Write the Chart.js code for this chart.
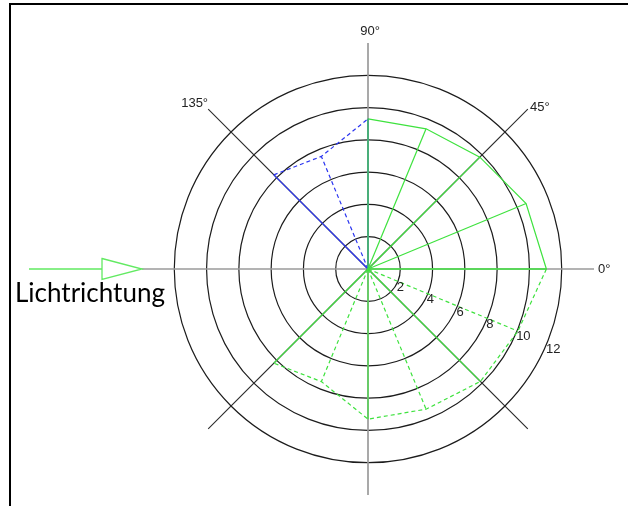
<!DOCTYPE html>
<html>
<head>
<meta charset="utf-8">
<script src="https://cdn.jsdelivr.net/npm/chart.js@4"></script>
<style>
  html, body { margin: 0; padding: 0; background: #fff; }
  #wrap { position: relative; width: 628px; height: 506px; overflow: hidden; }
  #frame {
    position: absolute; left: 9px; top: 3px; right: -4px; bottom: -4px;
    border-top: 2px solid #000; border-left: 2px solid #000;
  }
  canvas { position: absolute; left: 0; top: 0; }
</style>
</head>
<body>
<div id="wrap">
  <canvas id="polar" width="628" height="506"></canvas>
  <div id="frame"></div>
</div>
<script>
// directions of the radar spokes, clockwise from 0° (the way the radial scale runs)
const angles = [0, -22.5, -45, -67.5, -90, -112.5, -135, -157.5, 180, 157.5, 135, 112.5, 90, 67.5, 45, 22.5];
const degreeLabels = [0, 45, 90, 135];
const radiusTicks = [2, 4, 6, 8, 10, 12];

// upper half, solid green
const upperAngles = [0, 22.5, 45, 67.5, 90];
const upperValues = [11.05, 10.6, 9.8, 9.4, 9.3];

// lower half, dashed green
const lowerAngles = [0, -22.5, -45, -67.5, -90, -112.5, -135];
const lowerValues = [11.05, 10.05, 9.85, 9.4, 9.3, 7.55, 8.25];

// back side, blue
const backAngles = [90, 112.5, 135];
const backValues = [9.3, 7.55, 8.25];

const GREEN = '#3ee23e';
const BLUE = '#2b35f0';

function series(as, vs) {
  return angles.map(a => {
    const i = as.indexOf(a);
    return i >= 0 ? vs[i] : null;
  });
}

// spokes from the centre to each measured point (last dataset first so the solid green ends on top)
const rayPlugin = {
  id: 'rays',
  afterDatasetsDraw(chart) {
    const ctx = chart.ctx;
    const r = chart.scales.r;
    for (let di = chart.data.datasets.length - 1; di >= 0; di--) {
      const ds = chart.data.datasets[di];
      const meta = chart.getDatasetMeta(di);
      meta.data.forEach((pt, i) => {
        if (ds.data[i] === null) return;
        const dashed = ds.rayDashed && angles[i] % 45 !== 0;
        ctx.save();
        ctx.strokeStyle = ds.borderColor;
        ctx.lineWidth = ds.borderWidth;
        ctx.setLineDash(dashed ? [4, 3] : []);
        ctx.beginPath();
        ctx.moveTo(r.xCenter, r.yCenter);
        ctx.lineTo(pt.x, pt.y);
        ctx.stroke();
        ctx.restore();
      });
    }
  }
};

// degree labels, radius labels and the light direction arrow
const labelPlugin = {
  id: 'labels',
  afterDraw(chart) {
    const ctx = chart.ctx;
    const r = chart.scales.r;
    ctx.save();
    ctx.fillStyle = '#222';
    ctx.font = '13px "Liberation Sans", Arial, sans-serif';

    degreeLabels.forEach(a => {
      const idx = angles.indexOf(a);
      const p = r.getPointPosition(idx, r.drawingArea + 3);
      const txt = a + '°';
      if (a === 0) { ctx.textAlign = 'left'; ctx.textBaseline = 'middle'; ctx.fillText(txt, p.x + 1, p.y); }
      else if (a === 90) { ctx.textAlign = 'center'; ctx.textBaseline = 'bottom'; ctx.fillText(txt, p.x + 2, p.y - 2); }
      else if (a === 45) { ctx.textAlign = 'left'; ctx.textBaseline = 'middle'; ctx.fillText(txt, p.x, p.y); }
      else { ctx.textAlign = 'right'; ctx.textBaseline = 'middle'; ctx.fillText(txt, p.x + 2, p.y - 4); }
    });

    // radius values along the -22.5° spoke
    const tickIdx = angles.indexOf(-22.5);
    ctx.textAlign = 'left';
    ctx.textBaseline = 'middle';
    radiusTicks.forEach(v => {
      const p = r.getPointPosition(tickIdx, r.getDistanceFromCenterForValue(v));
      ctx.fillText(String(v), p.x - 1, p.y + 6);
    });

    // incoming light: line with an open triangle ending at the 180° spoke
    const tip = r.getPointPosition(angles.indexOf(180), r.drawingArea);
    ctx.strokeStyle = '#62ea62';
    ctx.lineWidth = 1.3;
    ctx.beginPath();
    ctx.moveTo(29, tip.y);
    ctx.lineTo(tip.x - 40, tip.y);
    ctx.moveTo(tip.x - 40, tip.y - 10.5);
    ctx.lineTo(tip.x, tip.y);
    ctx.lineTo(tip.x - 40, tip.y + 10.5);
    ctx.closePath();
    ctx.stroke();

    ctx.fillStyle = '#000';
    ctx.font = '26px Lato, "Noto Sans", sans-serif';
    ctx.textAlign = 'left';
    ctx.textBaseline = 'alphabetic';
    ctx.fillText('Lichtrichtung', 15, 302);
    ctx.restore();
  }
};

new Chart(document.getElementById('polar'), {
  type: 'radar',
  data: {
    labels: angles.map(a => a + '°'),
    datasets: [
      {
        data: series(upperAngles, upperValues),
        borderColor: GREEN,
        borderWidth: 1.2,
        fill: false,
        pointRadius: 0,
        rayDashed: false
      },
      {
        data: series(lowerAngles, lowerValues),
        borderColor: GREEN,
        borderWidth: 1.2,
        borderDash: [4, 3],
        fill: false,
        pointRadius: 0,
        rayDashed: true
      },
      {
        data: series(backAngles, backValues),
        borderColor: BLUE,
        borderWidth: 1.2,
        borderDash: [4, 3],
        fill: false,
        pointRadius: 0,
        rayDashed: true
      }
    ]
  },
  options: {
    responsive: false,
    animation: false,
    layout: { padding: { left: 142, right: 34, top: 43, bottom: 11 } },
    plugins: { legend: { display: false }, tooltip: { enabled: false } },
    elements: { line: { tension: 0 } },
    scales: {
      r: {
        min: 0,
        max: 14,
        startAngle: 90,
        ticks: { stepSize: 2, display: false },
        pointLabels: { display: false },
        grid: {
          circular: true,
          color: ctx => ctx.tick.value >= 14 ? 'rgba(0,0,0,0)' : '#1c1c1c',
          lineWidth: 1.2
        },
        angleLines: {
          color: ctx => ctx.index % 4 === 0 ? '#9a9a9a' : (ctx.index % 2 === 0 ? '#2a2a2a' : 'rgba(0,0,0,0)'),
          lineWidth: ctx => ctx.index % 4 === 0 ? 1.7 : 1.1
        }
      }
    }
  },
  plugins: [rayPlugin, labelPlugin]
});
</script>
</body>
</html>
